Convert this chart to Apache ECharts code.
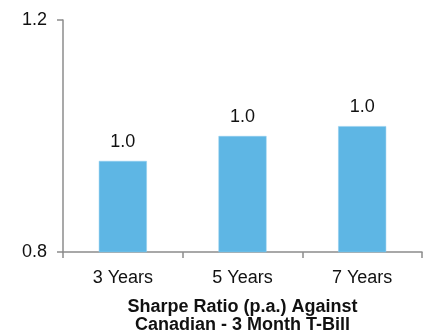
<!DOCTYPE html>
<html><head><meta charset="utf-8">
<script src="https://cdn.jsdelivr.net/npm/echarts@6/dist/echarts.min.js"></script>
<style>html,body{margin:0;padding:0;background:#fff}#c{width:427px;height:333px}</style>
</head><body><div id="c"></div>
<script>
const categories = ['3 Years', '5 Years', '7 Years'];
const sharpeValues = [0.957, 1.0, 1.017];
const yTicks = [0.8, 1.2];
const axisTitle = 'Sharpe Ratio (p.a.) Against\nCanadian - 3 Month T-Bill';

const chart = echarts.init(document.getElementById('c'), null, {renderer: 'canvas'});
chart.setOption({
  animation: false,
  backgroundColor: '#fff',
  grid: {left: 63, right: 5, top: 20, bottom: 81, containLabel: false, outerBoundsMode: 'none'},
  xAxis: {
    type: 'category',
    data: categories,
    axisLine: {lineStyle: {color: '#8c8c8c', width: 1.5}},
    axisTick: {show: true, length: 6, lineStyle: {color: '#8c8c8c', width: 1.5}},
    axisLabel: {color: '#111', fontFamily: 'Liberation Sans', fontSize: 18, margin: 17},
    name: axisTitle,
    nameLocation: 'middle',
    nameGap: 46,
    nameTextStyle: {color: '#111', fontFamily: 'Liberation Sans', fontSize: 18, fontWeight: 'bold', lineHeight: 18, verticalAlign: 'top'}
  },
  yAxis: {
    type: 'value',
    min: yTicks[0],
    max: yTicks[yTicks.length - 1],
    interval: 0.4,
    splitLine: {show: false},
    axisLine: {show: true, lineStyle: {color: '#8c8c8c', width: 1.5}},
    axisTick: {show: true, length: 6, lineStyle: {color: '#8c8c8c', width: 1.5}},
    axisLabel: {color: '#111', fontFamily: 'Liberation Sans', fontSize: 18, margin: 16,
      formatter: v => v.toFixed(1)}
  },
  series: [{
    type: 'bar',
    data: sharpeValues,
    barWidth: 48,
    itemStyle: {color: '#5eb6e4', borderColor: '#8fcdee', borderWidth: 0.5},
    label: {show: true, position: 'top', distance: 10, color: '#111',
      fontFamily: 'Liberation Sans', fontSize: 18, formatter: p => p.value.toFixed(1)}
  }]
});
</script></body></html>
